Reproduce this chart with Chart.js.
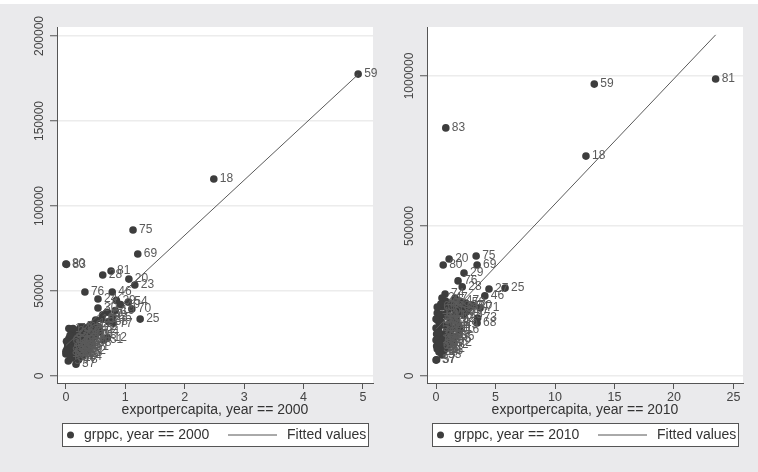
<!DOCTYPE html>
<html>
<head>
<meta charset="utf-8">
<script src="https://cdn.jsdelivr.net/npm/chart.js@4.4.0/dist/chart.umd.min.js"></script>
<style>
  html, body { margin: 0; padding: 0; background: #fff; }
  #wrap { position: relative; width: 758px; height: 472px; background: linear-gradient(#fff 0, #fff 4px, #eaeaec 4px, #eaeaec 100%); }
  .panel { position: absolute; top: 0; width: 379px; height: 472px; }
</style>
</head>
<body>
<div id="wrap">
  <div class="panel" style="left:0"><canvas id="c2000"></canvas></div>
  <div class="panel" style="left:379px"><canvas id="c2010"></canvas></div>
</div>
<script>
// region ids + values (year 2000)
const ids2000 = [59,18,75,69,80,83,81,28,20,23,76,46,24,29,54,40,70,30,19,56,47,65,25,15,58,77,11,84,12,31,63,37,57,
  1,2,3,4,5,6,7,8,9,10,13,14,16,17,21,22,26,27,32,33,34,35,36,38,39,41,42,43,44,45,48,49,50,51,52,53,55,60,61,62,64,66,67,68,71,72,73,74,78,79,82,85];
const export2000 = [4.92,2.49,1.13,1.21,0.00,0.01,0.76,0.62,1.06,1.16,0.32,0.78,0.54,0.85,1.05,0.92,1.11,0.54,0.83,0.70,0.62,0.78,1.25,0.50,0.72,0.80,0.45,0.57,0.70,0.64,0.29,0.17,0.04,
  0.05,0.10,0.15,0.20,0.25,0.30,0.35,0.40,0.42,0.38,0.02,0.00,0.08,0.12,0.18,0.22,0.28,0.33,0.05,0.10,0.14,0.20,0.26,0.30,0.36,0.45,0.48,0.03,0.07,0.16,0.24,0.32,0.18,0.09,0.22,0.13,0.26,0.01,0.40,0.35,0.06,0.19,0.27,0.44,0.50,0.55,0.12,0.28,0.21,0.08,0.60,0.00];
const grppc2000 = [177600,115900,85900,71800,65900,65700,61800,59400,57000,53500,49400,49400,45300,44500,43500,42000,39400,40000,38500,37500,36000,34500,33500,33000,32000,31000,30500,25900,22500,21200,13500,7000,8800,
  28000,26000,25000,27000,29000,28500,27000,29500,26500,24000,16000,13000,20000,18000,22000,19500,21000,23500,22000,14500,12000,15500,17500,19000,20500,22500,27000,18500,24000,21000,24500,25500,11000,10500,13000,16500,14000,20500,17000,15000,12500,18000,26000,19500,24500,29000,28000,11500,9500,16500,33500,14500];
const fitX2000 = [0, 4.92];
const fitY2000 = [18000, 177400];
const xTicks2000 = [0, 1, 2, 3, 4, 5];
const yTicks2000 = [0, 50000, 100000, 150000, 200000];

// year 2010
const ids2010 = [81,59,83,18,75,20,80,69,29,76,28,25,27,46,74,24,71,58,70,54,73,68,23,16,37,57,
  1,2,3,4,5,6,7,8,9,10,11,12,13,14,15,17,19,21,22,26,30,31,32,33,34,35,36,38,39,40,41,42,43,44,45,47,48,49,50,51,52,53,55,56,60,61,62,63,64,65,66,67,72,77,78,79,82,84,85];
const export2010 = [23.5,13.3,0.82,12.6,3.37,1.1,0.6,3.45,2.35,1.85,2.2,5.8,4.45,4.1,0.76,0.5,3.7,2.5,3.1,2.8,3.5,3.45,2.3,2.0,0.0,0.05,
  0.1,0.3,0.5,0.8,1.0,1.3,1.6,1.8,2.2,0.2,0.4,0.6,0.9,1.2,1.5,0.0,0.15,0.35,0.55,0.75,1.0,1.4,1.7,0.1,0.25,0.45,0.65,0.05,0.3,2.6,0.9,1.1,0.2,0.7,1.3,2.0,0.4,1.9,0.15,0.0,0.8,0.5,1.2,1.6,0.1,0.35,0.6,0.25,0.95,1.5,0.05,2.4,1.4,1.75,0.45,0.0,0.85,1.1,0.3];
const grppc2010 = [990000,973000,827000,733000,400000,390000,370000,370000,343000,317000,297000,293000,290000,267000,273000,260000,227000,243000,235000,232000,193000,177000,205000,153000,53000,54000,
  210000,190000,230000,250000,220000,240000,260000,230000,220000,160000,140000,170000,150000,180000,200000,120000,100000,110000,130000,115000,135000,160000,190000,90000,80000,95000,85000,140000,175000,215000,200000,105000,125000,205000,125000,250000,240000,170000,185000,160000,90000,70000,145000,130000,230000,205000,120000,145000,170000,225000,100000,235000,110000,210000,180000,190000,240000,165000,110000];
const fitX2010 = [0, 23.5];
const fitY2010 = [156000, 1137000];
const xTicks2010 = [0, 5, 10, 15, 20, 25];
const yTicks2010 = [0, 500000, 1000000];

Chart.defaults.font.family = "'Liberation Sans', Arial, sans-serif";
Chart.defaults.color = "#444";

const markerColor = "#3d3d3d";
const axisColor = "#555";

// white plot region + region-number labels + y tick labels + boxed legend
const stataLook = {
  id: "stataLook",
  beforeDraw(chart) {
    const { ctx, chartArea: a } = chart;
    ctx.save();
    ctx.fillStyle = "#fff";
    ctx.fillRect(a.left, a.top, a.right - a.left, a.bottom - a.top);
    ctx.restore();
  },
  afterDatasetsDraw(chart) {
    const ctx = chart.ctx;
    const ids = chart.options.plugins.stataLook.ids;
    const meta = chart.getDatasetMeta(1);
    ctx.save();
    ctx.font = "12px 'Liberation Sans', Arial, sans-serif";
    ctx.fillStyle = "#5a5a5a";
    ctx.textBaseline = "middle";
    meta.data.forEach((pt, i) => ctx.fillText(String(ids[i]), pt.x + 6, pt.y));
    ctx.restore();
  },
  afterDraw(chart) {
    const { ctx, chartArea: a } = chart;
    const opts = chart.options.plugins.stataLook;
    const yScale = chart.scales.y;
    ctx.save();
    // y tick labels, rotated like Stata
    ctx.font = "12px 'Liberation Sans', Arial, sans-serif";
    ctx.fillStyle = "#444";
    ctx.textAlign = "center";
    ctx.textBaseline = "middle";
    yScale.ticks.forEach((t) => {
      const y = yScale.getPixelForValue(t.value);
      ctx.save();
      ctx.translate(a.left - 17, y);
      ctx.rotate(-Math.PI / 2);
      ctx.fillText(String(t.value), 0, 0);
      ctx.restore();
    });

    // legend
    const bx = a.left + 5, bw = a.right - a.left - 10, by = 423, bh = 23;
    ctx.fillStyle = "#fff";
    ctx.fillRect(bx, by, bw, bh);
    ctx.strokeStyle = axisColor;
    ctx.lineWidth = 1;
    ctx.strokeRect(bx + 0.5, by + 0.5, bw, bh);
    const cy = by + bh / 2 + 0.5;
    ctx.fillStyle = markerColor;
    ctx.beginPath();
    ctx.arc(bx + 8.5, cy, 3.5, 0, Math.PI * 2);
    ctx.fill();
    ctx.font = "14px 'Liberation Sans', Arial, sans-serif";
    ctx.fillStyle = "#333";
    ctx.textAlign = "left";
    ctx.fillText(opts.seriesLabel, bx + 22, cy);
    ctx.strokeStyle = axisColor;
    ctx.beginPath();
    ctx.moveTo(bx + 166, cy);
    ctx.lineTo(bx + 215, cy);
    ctx.stroke();
    ctx.fillText("Fitted values", bx + 225, cy);
    ctx.restore();
  }
};

function makePanel(canvasId, p) {
  const pts = p.xs.map((x, i) => ({ x: x, y: p.ys[i] }));
  const fit = p.fitX.map((x, i) => ({ x: x, y: p.fitY[i] }));
  return new Chart(document.getElementById(canvasId), {
    type: "scatter",
    data: {
      datasets: [
        {
          type: "line",
          label: "Fitted values",
          data: fit,
          borderColor: "#5a5a5a",
          borderWidth: 1,
          pointRadius: 0,
          fill: false,
          order: 0
        },
        {
          label: p.seriesLabel,
          data: pts,
          backgroundColor: markerColor,
          borderWidth: 0,
          pointRadius: 3.8,
          order: 1
        }
      ]
    },
    options: {
      responsive: true,
      maintainAspectRatio: false,
      animation: false,
      devicePixelRatio: 1,
      layout: { padding: { left: 0, right: p.rightPad, top: 27, bottom: 44 } },
      plugins: {
        legend: { display: false },
        tooltip: { enabled: false },
        stataLook: { ids: p.ids, seriesLabel: p.seriesLabel }
      },
      scales: {
        x: {
          type: "linear",
          min: p.xMin,
          max: p.xMax,
          afterFit: (s) => { s.height = 45; },
          afterBuildTicks: (s) => { s.ticks = p.xTicks.map((v) => ({ value: v })); },
          grid: { display: true, drawOnChartArea: false, drawTicks: true, tickLength: 6, tickColor: axisColor },
          border: { display: true, color: axisColor, width: 1 },
          ticks: { padding: 1, color: "#444", font: { size: 12.5 } },
          title: {
            display: true,
            text: p.xTitle,
            color: "#333",
            font: { size: 14 },
            padding: { top: 0, bottom: 9 }
          }
        },
        y: {
          type: "linear",
          min: p.yMin,
          max: p.yMax,
          afterFit: (s) => { s.width = p.axisLeft; },
          afterBuildTicks: (s) => { s.ticks = p.yTicks.map((v) => ({ value: v })); },
          grid: { display: true, drawOnChartArea: true, color: "#ececec", lineWidth: 1.5, drawTicks: true, tickLength: 7, tickColor: axisColor, tickWidth: 1 },
          border: { display: true, color: axisColor, width: 1 },
          ticks: { display: false }
        }
      }
    },
    plugins: [stataLook]
  });
}

makePanel("c2000", {
  ids: ids2000, xs: export2000, ys: grppc2000,
  fitX: fitX2000, fitY: fitY2000,
  xTicks: xTicks2000, yTicks: yTicks2000,
  xMin: -0.15, xMax: 5.17, yMin: -4100, yMax: 205300,
  axisLeft: 57, rightPad: 6,
  xTitle: "exportpercapita, year == 2000",
  seriesLabel: "grppc, year == 2000"
});

makePanel("c2010", {
  ids: ids2010, xs: export2010, ys: grppc2010,
  fitX: fitX2010, fitY: fitY2010,
  xTicks: xTicks2010, yTicks: yTicks2010,
  xMin: -0.76, xMax: 25.8, yMin: -23300, yMax: 1163300,
  axisLeft: 48, rightPad: 15,
  xTitle: "exportpercapita, year == 2010",
  seriesLabel: "grppc, year == 2010"
});
</script>
</body>
</html>
